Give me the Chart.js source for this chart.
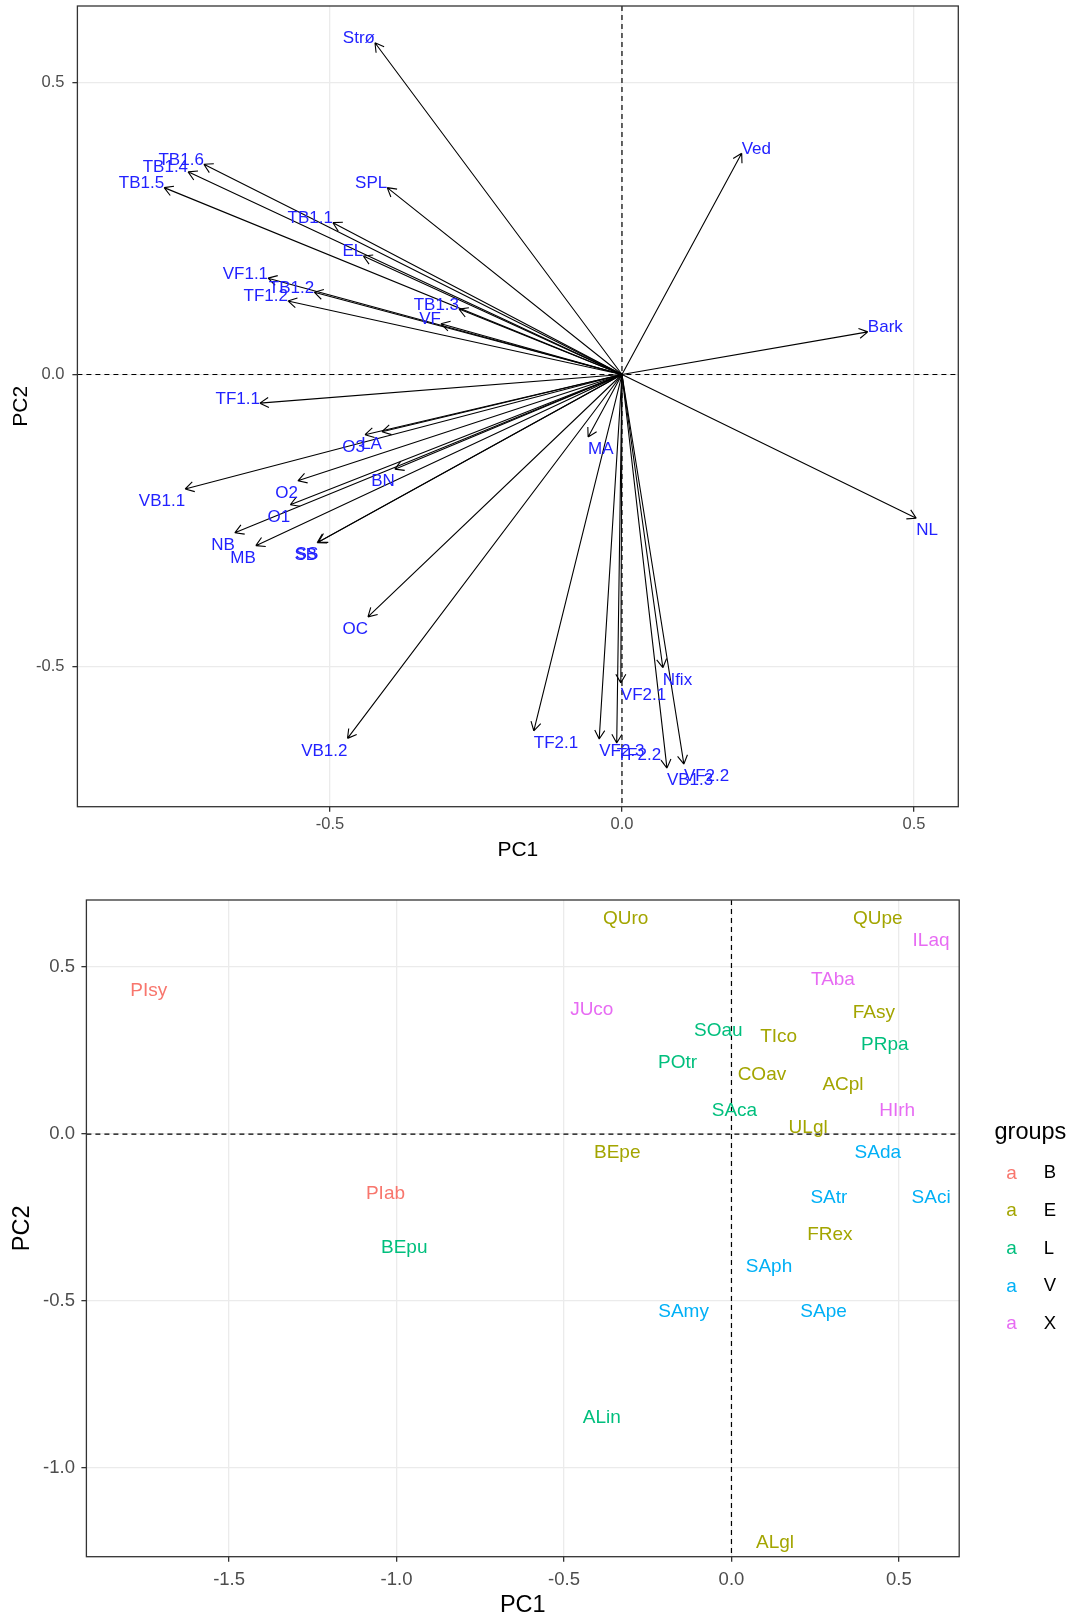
<!DOCTYPE html>
<html>
<head>
<meta charset="utf-8">
<script src="https://cdn.jsdelivr.net/npm/chart.js@4.4.1/dist/chart.umd.min.js"></script>
<style>
  body { margin: 0; background: #fff; }
  #wrap { position: relative; width: 1069px; height: 1618px; }
  canvas { position: absolute; left: 0; }
  #loadings { top: 0; }
  #scores { top: 870px; }
</style>
</head>
<body>
<div id="wrap">
  <canvas id="loadings" width="1069" height="870"></canvas>
  <canvas id="scores" width="1069" height="748"></canvas>
</div>
<script>
// variable loadings (top plot)
const varNames = ['Strø', 'Ved', 'SPL', 'TB1.6', 'TB1.4', 'TB1.5', 'TB1.1', 'EL', 'VF1.1', 'TB1.2',
  'TF1.2', 'TB1.3', 'VF', 'Bark', 'TF1.1', 'O3', 'LA', 'MA', 'BN', 'VB1.1', 'O2', 'O1', 'NB', 'MB',
  'SS', 'SB', 'OC', 'VB1.2', 'TF2.1', 'VF2.3', 'TF2.2', 'VF2.1', 'Nfix', 'VB1.3', 'VF2.2', 'NL'];
const varPC1 = [-0.423, 0.205, -0.402, -0.716, -0.743, -0.784, -0.495, -0.443, -0.606, -0.527,
  -0.572, -0.279, -0.310, 0.421, -0.620, -0.440, -0.411, -0.058, -0.389, -0.748, -0.555, -0.568, -0.663, -0.627,
  -0.520, -0.522, -0.435, -0.470, -0.151, -0.039, -0.009, -0.002, 0.070, 0.077, 0.106, 0.504];
const varPC2 = [0.568, 0.379, 0.320, 0.360, 0.347, 0.320, 0.260, 0.203, 0.165, 0.141,
  0.126, 0.112, 0.087, 0.073, -0.049, -0.103, -0.098, -0.107, -0.162, -0.196, -0.182, -0.223, -0.271, -0.293,
  -0.287, -0.288, -0.415, -0.623, -0.610, -0.624, -0.631, -0.528, -0.502, -0.674, -0.667, -0.246];

// species scores (bottom plot)
const speciesNames = ['PIsy', 'PIab', 'QUro', 'QUpe', 'FAsy', 'TIco', 'COav', 'ACpl', 'ULgl', 'BEpe',
  'FRex', 'ALgl', 'SOau', 'POtr', 'SAca', 'PRpa', 'BEpu', 'ALin', 'SAda', 'SAtr', 'SAci', 'SAph',
  'SAmy', 'SApe', 'ILaq', 'TAba', 'JUco', 'HIrh'];
const speciesGroup = ['B', 'B', 'E', 'E', 'E', 'E', 'E', 'E', 'E', 'E',
  'E', 'E', 'L', 'L', 'L', 'L', 'L', 'L', 'V', 'V', 'V', 'V',
  'V', 'V', 'X', 'X', 'X', 'X'];
const scorePC1 = [-1.740, -1.033, -0.316, 0.437, 0.425, 0.141, 0.091, 0.333, 0.229, -0.341,
  0.294, 0.130, -0.039, -0.161, 0.009, 0.458, -0.977, -0.387, 0.437, 0.291, 0.596, 0.112,
  -0.143, 0.275, 0.596, 0.303, -0.417, 0.495];
const scorePC2 = [0.428, -0.180, 0.646, 0.646, 0.364, 0.291, 0.179, 0.149, 0.020, -0.055,
  -0.302, -1.225, 0.309, 0.213, 0.069, 0.266, -0.342, -0.851, -0.055, -0.190, -0.190, -0.399,
  -0.532, -0.532, 0.578, 0.463, 0.373, 0.069];
const groups = ['B', 'E', 'L', 'V', 'X'];
const groupColors = ['#F8766D', '#A3A500', '#00BF7D', '#00B0F6', '#E76BF3'];

Chart.defaults.font.family = '"Liberation Sans", Arial, sans-serif';

const zeroLines = {
  id: 'zeroLines',
  beforeDatasetsDraw(chart) {
    const { ctx, chartArea: a, scales: { x, y } } = chart;
    const px = x.getPixelForValue(0), py = y.getPixelForValue(0);
    ctx.save();
    ctx.strokeStyle = '#000';
    ctx.lineWidth = 1.2;
    ctx.setLineDash([5, 4]);
    ctx.beginPath();
    ctx.moveTo(a.left, py); ctx.lineTo(a.right, py);
    ctx.moveTo(px, a.top); ctx.lineTo(px, a.bottom);
    ctx.stroke();
    ctx.restore();
  }
};

const frame = {
  id: 'frame',
  afterDraw(chart) {
    const { ctx, chartArea: a } = chart;
    ctx.save();
    ctx.strokeStyle = '#333';
    ctx.lineWidth = 1.3;
    ctx.strokeRect(a.left, a.top, a.right - a.left, a.bottom - a.top);
    ctx.restore();
  }
};

// arrows from origin with labels pushed outward from panel centre
const arrows = {
  id: 'arrows',
  afterDatasetsDraw(chart) {
    const { ctx, chartArea: a, scales: { x, y } } = chart;
    const ox = x.getPixelForValue(0), oy = y.getPixelForValue(0);
    const midX = (a.left + a.right) / 2, midY = (a.top + a.bottom) / 2;
    const pts = chart.getDatasetMeta(0).data;
    ctx.save();
    ctx.strokeStyle = '#000';
    ctx.lineWidth = 1.1;
    pts.forEach(p => {
      const ang = Math.atan2(p.y - oy, p.x - ox);
      ctx.beginPath();
      ctx.moveTo(ox, oy);
      ctx.lineTo(p.x, p.y);
      [-1, 1].forEach(s => {
        ctx.moveTo(p.x, p.y);
        ctx.lineTo(p.x - 10 * Math.cos(ang + s * Math.PI / 6), p.y - 10 * Math.sin(ang + s * Math.PI / 6));
      });
      ctx.stroke();
    });
    ctx.font = '17px "Liberation Sans", Arial, sans-serif';
    ctx.fillStyle = '#2222ff';
    pts.forEach((p, i) => {
      ctx.textAlign = p.x > midX ? 'left' : 'right';
      const above = p.y < midY;
      ctx.textBaseline = above ? 'alphabetic' : 'top';
      ctx.fillText(varNames[i], p.x, above ? p.y + 0.5 : p.y + 4);
    });
    ctx.restore();
  }
};

const textPoints = {
  id: 'textPoints',
  afterDatasetsDraw(chart) {
    const { ctx } = chart;
    ctx.save();
    ctx.font = '19px "Liberation Sans", Arial, sans-serif';
    ctx.textAlign = 'center';
    ctx.textBaseline = 'middle';
    chart.data.datasets.forEach((ds, d) => {
      ctx.fillStyle = ds.borderColor;
      chart.getDatasetMeta(d).data.forEach((p, i) => {
        ctx.fillText(ds.names[i], p.x, p.y);
      });
    });
    ctx.restore();
  }
};

const groupLegend = {
  id: 'groupLegend',
  afterDraw(chart) {
    const { ctx } = chart;
    ctx.save();
    ctx.fillStyle = '#000';
    ctx.font = '23.5px "Liberation Sans", Arial, sans-serif';
    ctx.textAlign = 'left';
    ctx.textBaseline = 'alphabetic';
    ctx.fillText('groups', 994.5, 269);
    ctx.textBaseline = 'middle';
    chart.data.datasets.forEach((ds, i) => {
      const yy = 303.3 + i * 37.7;
      ctx.font = '19px "Liberation Sans", Arial, sans-serif';
      ctx.textAlign = 'center';
      ctx.fillStyle = ds.borderColor;
      ctx.fillText('a', 1011.6, yy);
      ctx.font = '18.5px "Liberation Sans", Arial, sans-serif';
      ctx.textAlign = 'left';
      ctx.fillStyle = '#000';
      ctx.fillText(ds.label, 1043.7, yy);
    });
    ctx.restore();
  }
};

function axis(min, max, o) {
  return {
    type: 'linear',
    min: min,
    max: max,
    ticks: {
      stepSize: 0.5, includeBounds: false, padding: o.tickPad, color: '#4d4d4d',
      font: { size: o.tickSize }, callback: v => v.toFixed(1)
    },
    grid: { color: '#EBEBEB', lineWidth: 1.3, tickColor: '#333', tickLength: 5, tickWidth: 1.3 },
    border: { display: false },
    title: {
      display: true, text: o.title, color: '#000',
      font: { size: o.titleSize, lineHeight: o.titleLH }, padding: o.titlePad
    },
    afterFit: o.fit
  };
}

new Chart(document.getElementById('loadings'), {
  type: 'scatter',
  data: {
    datasets: [{
      data: varPC1.map((v, i) => ({ x: v, y: varPC2[i] })),
      pointRadius: 0
    }]
  },
  options: {
    responsive: false, animation: false, events: [],
    layout: { padding: { left: 0, top: 6, right: 110.7, bottom: 0 } },
    plugins: { legend: { display: false }, tooltip: { enabled: false } },
    scales: {
      x: axis(-0.9325, 0.5759, {
        tickPad: 2.5, tickSize: 16.5, title: 'PC1', titleSize: 21, titleLH: 1.2,
        titlePad: { top: 0, bottom: 7 },
        fit: s => { s.height = 63.3; s.paddingLeft = 0; s.paddingRight = 0; }
      }),
      y: axis(-0.740, 0.631, {
        tickPad: 8, tickSize: 16.5, title: 'PC2', titleSize: 21, titleLH: 1.2,
        titlePad: { top: 8.4, bottom: 0 },
        fit: s => { s.width = 77.4; s.paddingTop = 0; s.paddingBottom = 0; }
      })
    }
  },
  plugins: [zeroLines, arrows, frame]
});

new Chart(document.getElementById('scores'), {
  type: 'scatter',
  data: {
    datasets: groups.map((g, k) => {
      const idx = speciesGroup.map((s, i) => s === g ? i : -1).filter(i => i >= 0);
      return {
        label: g,
        names: idx.map(i => speciesNames[i]),
        data: idx.map(i => ({ x: scorePC1[i], y: scorePC2[i] })),
        borderColor: groupColors[k],
        backgroundColor: groupColors[k],
        pointRadius: 0
      };
    })
  },
  options: {
    responsive: false, animation: false, events: [],
    layout: { padding: { left: 0, top: 30, right: 109.8, bottom: 0 } },
    plugins: { legend: { display: false }, tooltip: { enabled: false } },
    scales: {
      x: axis(-1.926, 0.680, {
        tickPad: 7.2, tickSize: 18.5, title: 'PC1', titleSize: 23.5, titleLH: 1.1,
        titlePad: { top: 0, bottom: 0 },
        fit: s => { s.height = 61.3; s.paddingLeft = 0; s.paddingRight = 0; }
      }),
      y: axis(-1.266, 0.701, {
        tickPad: 6.4, tickSize: 18.5, title: 'PC2', titleSize: 23.5, titleLH: 1.1,
        titlePad: { top: 10, bottom: 0 },
        fit: s => { s.width = 86.4; s.paddingTop = 0; s.paddingBottom = 0; }
      })
    }
  },
  plugins: [zeroLines, textPoints, frame, groupLegend]
});
</script>
</body>
</html>
